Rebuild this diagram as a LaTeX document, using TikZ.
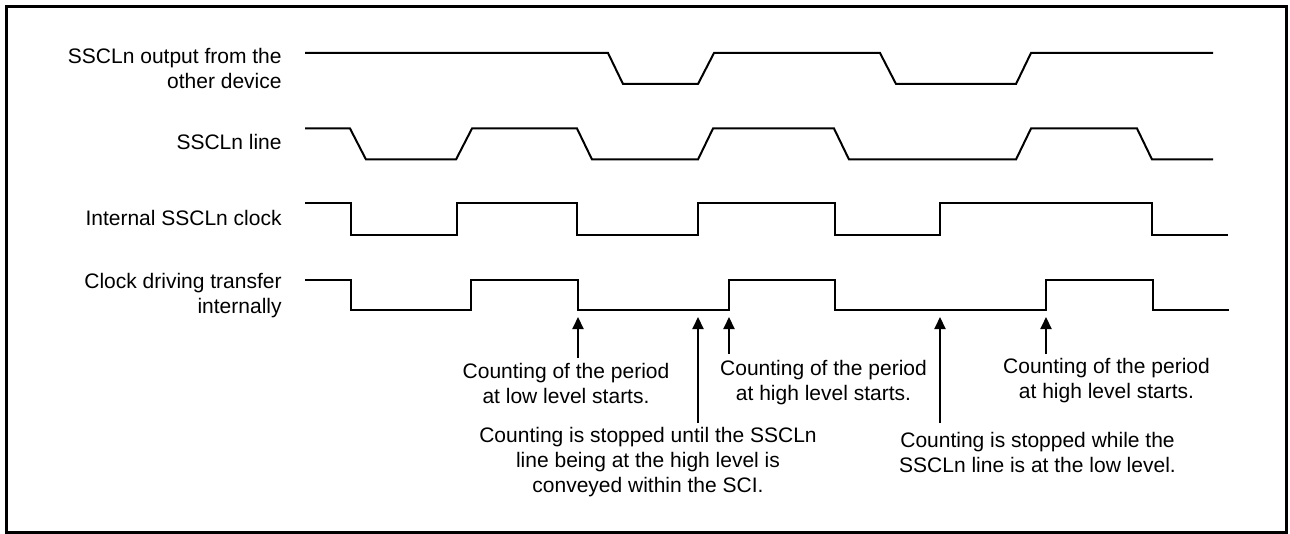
\documentclass[tikz,border=0pt]{standalone}
\usepackage{fontspec}
\setmainfont{Liberation Sans}
\usetikzlibrary{arrows.meta,calc}

\begin{document}
\begin{tikzpicture}[
  x=0.5pt, y=-0.5pt,
  wave/.style={line width=1pt, line join=miter},
  pointer/.style={-{Triangle[length=6pt, width=5.5pt]}, line width=1pt},
  siglabel/.style={anchor=base east, align=right, inner sep=0pt, font=\fontsize{10.5}{12.6}\selectfont},
  note/.style={anchor=north, align=center, inner sep=0pt, font=\fontsize{10.5}{12.6}\selectfont},
]
\useasboundingbox (0,0) rectangle (1290,534);
\draw[line width=1.5pt] (6.5,7) rectangle (1286,532);

% === Signal names ===
\node[siglabel] (outlbl) at (282,88.3) {SSCLn output from the\\other device};
\node[siglabel] (linelbl) at (282,150) {SSCLn line};
\node[siglabel] (clklbl) at (282,226) {Internal SSCLn clock};
\node[siglabel] (xferlbl) at (282,314) {Clock driving transfer\\internally};

% === Waveforms ===
\draw[wave] (305,53) -- (608,53) -- (623,84) -- (698,84) -- (714,53) -- (880,53)
  -- (896,84) -- (1016,84) -- (1031,53) -- (1213,53);
\draw[wave] (305,128.5) -- (350,128.5) -- (366,159.5) -- (456,159.5) -- (472,128.5)
  -- (577,128.5) -- (592,159.5) -- (698,159.5) -- (713,128.5) -- (834,128.5)
  -- (849,159.5) -- (1016,159.5) -- (1031,128.5) -- (1137,128.5) -- (1152,159.5) -- (1213,159.5);
\draw[wave] (305,203.5) -| (351,235) -| (457,203.5) -| (577,235) -| (698,203.5)
  -| (835,235) -| (940,203.5) -| (1152,235) -- (1228,235);
\draw[wave] (305,280) -| (351,310) -| (471,280) -| (578,310) -| (729,280)
  -| (835,310) -| (1046,280) -| (1153,310) -- (1229,310);

% === Points of interest ===
\coordinate (lowstart) at (578,317);
\coordinate (waithigh) at (698,317);
\coordinate (highstart) at (729,317);
\coordinate (waitlow) at (940,317);
\coordinate (highstart2) at (1046,317);

% === Notes ===
\node[note] (lowtxt) at (566,362.4) {Counting of the period\\at low level starts.};
\node[note] (hightxt) at (823.5,360) {Counting of the period\\at high level starts.};
\node[note] (hightxt2) at (1106.5,357.7) {Counting of the period\\at high level starts.};
\node[note] (untiltxt) at (648,426.4) {Counting is stopped until the SSCLn\\line being at the high level is\\conveyed within the SCI.};
\node[note] (whiletxt) at (1037.5,431.4) {Counting is stopped while the\\SSCLn line is at the low level.};

\draw[pointer] (lowtxt.north -| lowstart) ++(0,-4.4) -- (lowstart);
\draw[pointer] (untiltxt.north -| waithigh) ++(0,-3.4) -- (waithigh);
\draw[pointer] (hightxt.north -| highstart) ++(0,-6) -- (highstart);
\draw[pointer] (whiletxt.north -| waitlow) ++(0,-8.4) -- (waitlow);
\draw[pointer] (hightxt2.north -| highstart2) ++(0,-3.7) -- (highstart2);

\end{tikzpicture}
\end{document}
